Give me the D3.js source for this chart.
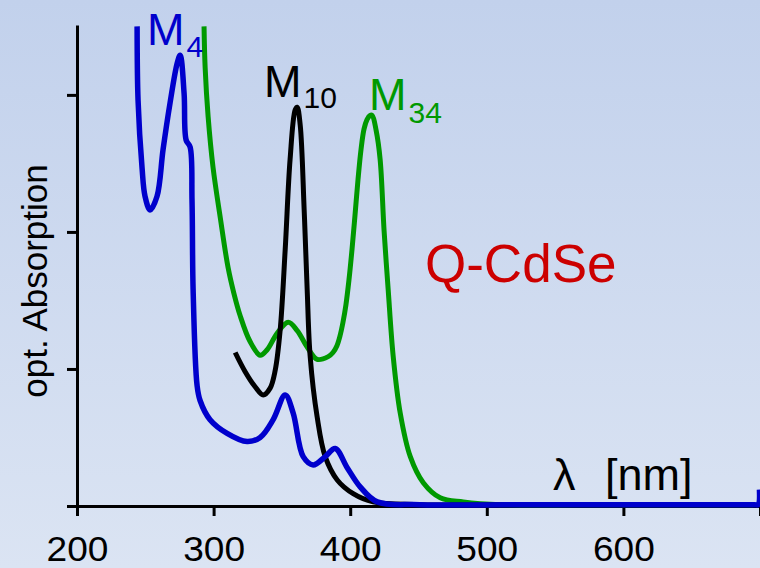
<!DOCTYPE html>
<html>
<head>
<meta charset="utf-8">
<script src="https://d3js.org/d3.v7.min.js"></script>
<style>
  body { margin: 0; }
  svg { display: block; font-family: "Liberation Sans", Arial, sans-serif; }
</style>
</head>
<body>
<svg id="chart" width="760" height="568"></svg>
<script>
// wavelength [nm], optical absorption (a.u.)
const seriesM4 = [
  [244.0, 3.50], [244.7, 2.96], [247.6, 2.47], [249.8, 2.26], [253.5, 2.16],
  [258.6, 2.26], [263.0, 2.60], [268.1, 2.94], [273.3, 3.23], [275.5, 3.29],
  [278.4, 3.01], [279.9, 2.67], [282.8, 2.62], [284.2, 2.23], [285.0, 1.58],
  [287.9, 0.88], [290.1, 0.77], [297.4, 0.63], [309.9, 0.53], [324.5, 0.47],
  [334.1, 0.50], [343.6, 0.63], [352.4, 0.81], [358.2, 0.68], [365.6, 0.36],
  [372.9, 0.30], [381.7, 0.36], [389.0, 0.42], [397.8, 0.28], [407.3, 0.14],
  [419.8, 0.03], [451.0, 0.01], [550.0, 0.01], [650.0, 0.01], [696.0, 0.01],
  [698.6, 0.01], [699.6, 0.12]
];
const seriesM10 = [
  [315.8, 1.12], [323.1, 0.98], [330.4, 0.87], [336.3, 0.81], [341.4, 0.86],
  [345.1, 0.99], [348.7, 1.28], [352.4, 1.87], [356.0, 2.53], [359.7, 2.89],
  [361.2, 2.91], [363.4, 2.78], [366.3, 2.16], [368.5, 1.58], [370.7, 1.09],
  [375.8, 0.65], [381.7, 0.36], [390.5, 0.19], [402.2, 0.09], [416.8, 0.03],
  [451.0, 0.01], [550.0, 0.01], [650.0, 0.01], [695.0, 0.01]
];
const seriesM34 = [
  [293.0, 3.50], [293.8, 3.20], [296.0, 2.84], [299.6, 2.47], [304.8, 2.11],
  [310.6, 1.74], [314.9, 1.55], [319.4, 1.39], [326.7, 1.20], [334.1, 1.10],
  [339.2, 1.14], [346.5, 1.26], [354.6, 1.34], [361.2, 1.28], [368.5, 1.16],
  [375.8, 1.07], [383.9, 1.09], [387.4, 1.12], [390.3, 1.17], [392.5, 1.24],
  [394.7, 1.34], [396.9, 1.47], [399.1, 1.65], [401.3, 1.87], [403.5, 2.12],
  [405.7, 2.38], [407.9, 2.60], [410.1, 2.75], [412.3, 2.82], [414.5, 2.85],
  [416.1, 2.85], [419.0, 2.74], [421.9, 2.53], [424.8, 2.01], [427.8, 1.58],
  [431.5, 1.09], [436.6, 0.68], [444.0, 0.36], [453.5, 0.17], [465.9, 0.06],
  [482.8, 0.03], [510.0, 0.01], [600.0, 0.01], [695.0, 0.01]
];
const xTicks = [200, 300, 400, 500, 600, 700];
const yTicks = [0, 1, 2, 3];

const svg = d3.select("#chart");

// background gradient
const grad = svg.append("defs").append("linearGradient")
  .attr("id", "bg").attr("x1", 0).attr("y1", 0).attr("x2", 0).attr("y2", 1);
grad.append("stop").attr("offset", "0%").attr("stop-color", "#c2d1ec");
grad.append("stop").attr("offset", "100%").attr("stop-color", "#dbe4f3");
svg.append("rect").attr("width", 760).attr("height", 568).attr("fill", "url(#bg)");

const x = d3.scaleLinear().domain([200, 700]).range([77, 760]);
const y = d3.scaleLinear().domain([0, 3.51]).range([506, 25]);

// axes
const xAxis = svg.append("g")
  .attr("transform", `translate(0,${y(0)})`)
  .call(d3.axisBottom(x).tickValues(xTicks).tickSize(10).tickSizeOuter(0)
    .tickFormat(d => d < 700 ? d : ""));
xAxis.selectAll("text")
  .attr("dy", null).attr("y", 55)
  .attr("transform", "scale(1.06,1)")
  .attr("font-size", 35).attr("font-family", "Liberation Sans, Arial, sans-serif")
  .attr("fill", "#000");

const yAxis = svg.append("g")
  .attr("transform", `translate(${x(200)},0)`)
  .call(d3.axisLeft(y).tickValues(yTicks).tickSize(10).tickSizeOuter(0).tickFormat(""));

svg.selectAll(".domain, .tick line").attr("stroke", "#000").attr("stroke-width", 3);

// curves
const line = d3.line()
  .x(d => x(d[0]))
  .y(d => y(d[1]))
  .curve(d3.curveCatmullRom.alpha(0.5));

const drawCurve = (data, color, width) => {
  svg.append("path")
    .datum(data)
    .attr("d", line)
    .attr("fill", "none")
    .attr("stroke", color)
    .attr("stroke-width", width)
    .attr("stroke-linejoin", "round");
};

drawCurve(seriesM34, "#009900", 5);
drawCurve(seriesM10, "#000000", 5);
drawCurve(seriesM4, "#0000cc", 5.5);

// labels
const subLabel = (tx, ty, sub, dy, color) => {
  const t = svg.append("text")
    .attr("x", tx).attr("y", ty)
    .attr("fill", color).attr("font-size", 45);
  t.append("tspan").text("M");
  t.append("tspan").attr("dy", dy).attr("dx", 2).attr("font-size", 30).text(sub);
};
subLabel(147, 45, "4", 12, "#0000cc");
subLabel(264, 97, "10", 11, "#000000");
subLabel(369, 110, "34", 13, "#009900");

svg.append("text")
  .attr("x", 425).attr("y", 282)
  .attr("font-size", 53).attr("fill", "#cc0000")
  .text("Q-CdSe");

const lam = svg.append("text").attr("y", 490).attr("font-size", 45).attr("fill", "#000");
lam.append("tspan").attr("x", 553).text("λ");
lam.append("tspan").attr("x", 605).text("[nm]");

svg.append("text")
  .attr("transform", "translate(47,281) rotate(-90)")
  .attr("text-anchor", "middle")
  .attr("font-size", 35).attr("fill", "#000")
  .text("opt. Absorption");
</script>
</body>
</html>
